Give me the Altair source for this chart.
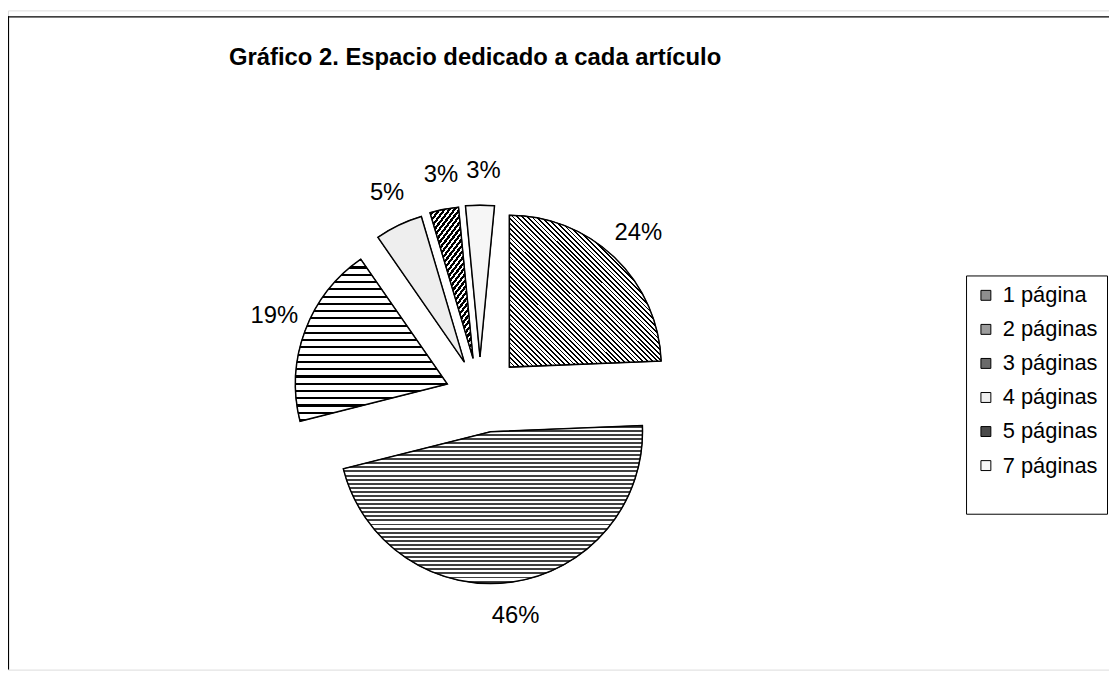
import math
import altair as alt
import pandas as pd

# ---------------- data ----------------
categories = ["1 página", "2 páginas", "3 páginas", "4 páginas", "5 páginas", "7 páginas"]
percent = [24, 46, 19, 5, 3, 3]
order_idx = [0, 1, 2, 3, 4, 5]

title_text = "Gráfico 2. Espacio dedicado a cada artículo"

# ---------------- layout / style constants ----------------
W, H = 1109, 664
CX, CY = 479, 387
R = 153
EXPLODE = 38
LABEL_R = 225
FONT = "Liberation Sans, Arial, sans-serif"

legend_grays = ["#8e8e8e", "#9c9c9c", "#6a6a6a", "#f0f0f0", "#4a4a4a", "#f8f8f8"]

df = pd.DataFrame({"cat": categories, "value": percent, "idx": order_idx})


def arc_bbox(a0, a1, r):
    pts = [(0.0, 0.0)]
    for a in (a0, a1):
        pts.append((r * math.sin(a), -r * math.cos(a)))
    for k in range(5):
        a = k * math.pi / 2
        if a0 < a < a1:
            pts.append((r * math.sin(a), -r * math.cos(a)))
    xs, ys = zip(*pts)
    return max(xs) - min(xs), max(ys) - min(ys)


def stripes(w, h, nx, ny, period, dark, dark_color="black", light_color="white"):
    n = math.hypot(nx, ny)
    nx, ny = nx / n, ny / n
    x1 = 1.0 if nx < 0 else 0.0
    y1 = 1.0 if ny < 0 else 0.0
    S = abs(nx) * w + abs(ny) * h
    L = nx * nx * w * w + ny * ny * h * h
    k = S / L
    x2 = x1 + k * nx * w
    y2 = y1 + k * ny * h
    stops = []
    i = 0
    while i * period < S:
        o0 = i * period / S
        o1 = min((i * period + dark) / S, 1.0)
        o2 = min((i + 1) * period / S, 1.0)
        stops += [
            {"offset": round(o0, 5), "color": dark_color},
            {"offset": round(o1, 5), "color": dark_color},
            {"offset": round(o1, 5), "color": light_color},
            {"offset": round(o2, 5), "color": light_color},
        ]
        i += 1
    return {"gradient": "linear", "x1": x1, "y1": y1, "x2": x2, "y2": y2, "stops": stops}


# per-slice pattern look-alikes (hatching through gradients)
total = float(sum(percent))
cum = 0.0
boxes = []
for v in percent:
    a0 = 2 * math.pi * cum / total
    a1 = 2 * math.pi * (cum + v) / total
    boxes.append(arc_bbox(a0, a1, R))
    cum += v

patterns = [
    stripes(*boxes[0], 1, -1, 3.4, 1.3),                    # \\\ diagonal
    stripes(*boxes[1], 0, 1, 4.2, 2.0, "#404040"),          # wavy horizontal
    stripes(*boxes[2], 0, 1, 7.4, 2.2),                     # horizontal lines
    "#eeeeee",                                              # dots
    stripes(*boxes[4], 1, 1, 4.6, 2.6),                     # /// dark diagonal
    "#f6f6f6",                                              # sparse dots
]

fill_conditions = [
    {"test": f"datum.cat === '{c}'", "value": p} for c, p in zip(categories, patterns)
]

base = (
    alt.Chart(df)
    .transform_window(cum="sum(value)", sort=[alt.SortField("idx")], frame=[None, 0])
    .transform_calculate(
        start="datum.cum - datum.value",
        mid="datum.cum - datum.value / 2",
        label="datum.value + '%'",
    )
    .transform_calculate(ang="2 * PI * datum.mid / 100")
    .transform_calculate(
        cx=f"{CX} + {EXPLODE} * sin(datum.ang)",
        cy=f"{CY} - {EXPLODE} * cos(datum.ang)",
    )
)

theta_enc = alt.Theta("start:Q", scale=alt.Scale(range=[0, 2 * math.pi]))

legend_layer = base.mark_arc(outerRadius=R, stroke="black", strokeWidth=1).encode(
    theta=theta_enc,
    theta2="cum:Q",
    x=alt.X("cx:Q", scale=None, axis=None),
    y=alt.Y("cy:Q", scale=None, axis=None),
    color=alt.Color(
        "cat:N",
        sort=categories,
        scale=alt.Scale(domain=categories, range=legend_grays),
        legend=alt.Legend(
            title=" ",
            titleOrient="bottom",
            titleFontSize=20,
            titlePadding=8,
            orient="none",
            legendX=965,
            legendY=267,
            symbolType="square",
            symbolSize=100,
            symbolStrokeColor="black",
            symbolStrokeWidth=1,
            labelFont=FONT,
            labelFontSize=22,
            labelColor="black",
            labelOffset=6,
            labelLimit=500,
            rowPadding=12.3,
            padding=9,
            strokeColor="black",
            fillColor="white",
        ),
    ),
)

pattern_layer = base.mark_arc(outerRadius=R, stroke="black", strokeWidth=1.5).encode(
    theta=theta_enc,
    theta2="cum:Q",
    x=alt.X("cx:Q", scale=None, axis=None),
    y=alt.Y("cy:Q", scale=None, axis=None),
    fill=alt.value("white", condition=fill_conditions),
)

label_layer = base.mark_text(font=FONT, fontSize=24, color="black").encode(
    theta=alt.Theta("mid:Q"),
    radius=alt.value(LABEL_R),
    x=alt.value(CX),
    y=alt.value(CY),
    text="label:N",
)

one = pd.DataFrame({"k": [0]})
left_border = alt.Chart(one).mark_rule(color="black", strokeWidth=1.2).encode(
    x=alt.value(0.5), y=alt.value(6), y2=alt.value(H)
)
top_border = alt.Chart(one).mark_rule(color="black", strokeWidth=1.2).encode(
    x=alt.value(0), x2=alt.value(W), y=alt.value(6.5)
)

chart = (
    alt.layer(left_border, top_border, legend_layer, pattern_layer, label_layer)
    .properties(
        width=W,
        height=H,
        autosize=alt.AutoSizeParams(type="none"),
        padding={"left": 0, "top": 0, "right": 0, "bottom": 0},
        title=alt.Title(
            title_text,
            font=FONT,
            fontSize=24,
            fontWeight="bold",
            color="black",
            anchor="middle",
            frame="group",
            dx=-84,
            dy=60,
            offset=0,
        ),
    )
    .configure_view(stroke="transparent", strokeWidth=0)
    .configure(background="white")
)

chart.save("out.html", embed_options={"renderer": "svg", "actions": False})
